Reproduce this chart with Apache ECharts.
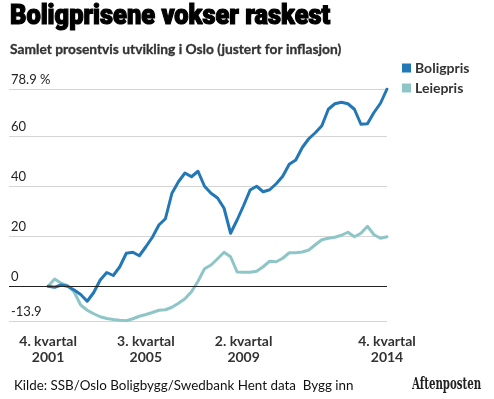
<!DOCTYPE html>
<html>
<head>
<meta charset="utf-8">
<script src="https://cdn.jsdelivr.net/npm/echarts@6/dist/echarts.min.js"></script>
<style>
  html, body { margin: 0; padding: 0; background: #fff; }
  #chart { width: 494px; height: 399px; }
</style>
</head>
<body>
<div id="chart"></div>
<script>
// quarter index 0 = 4. kvartal 2001 ... 52 = 4. kvartal 2014
const boligpris = [
  0, -0.4, 0.5, 0, -1.5, -3.3, -6, -2.5, 2.5, 5.5,
  4.3, 7.8, 13.2, 13.6, 12.2, 15.8, 19.6, 24.5, 27, 37.2,
  41.8, 45.3, 43.8, 46, 40, 37.2, 35.3, 31.2, 21.2, 26.5,
  32.3, 38.5, 40, 37.8, 38.6, 41, 44, 48.8, 50.5, 55.5,
  59, 61.4, 64.2, 70.8, 73, 73.6, 73, 70.8, 64.8, 65,
  69.5, 73.2, 78.9
];
const leiepris = [
  0, 2.9, 1.2, 0.2, -2.3, -7.5, -9.6, -11, -12.2, -12.9,
  -13.3, -13.6, -13.8, -13, -12, -11.3, -10.5, -9.6, -9.4, -8.4,
  -6.8, -5, -2.2, 2, 7, 8.5, 11, 13.6, 11.8, 5.7,
  5.6, 5.6, 6, 7.8, 10, 9.8, 11.2, 13.4, 13.4, 13.7,
  14.5, 16.6, 18.6, 19.2, 19.6, 20.4, 21.6, 19.8, 21.2, 24,
  20.6, 19.2, 19.8
];
const tickIndex = [0, 15, 30, 52];
const tickLabels = ['4. kvartal\n2001', '3. kvartal\n2005', '2. kvartal\n2009', '4. kvartal\n2014'];
const yTicks = [-13.9, 0, 20, 40, 60, 78.9];

const chart = echarts.init(document.getElementById('chart'));

const option = {
  animation: false,
  graphic: [
    {
      type: 'text', x: 10, y: 4, scaleX: 0.94,
      style: {
        text: 'Boligprisene vokser raskest', fontFamily: 'Roboto', fontWeight: 900, fontSize: 27,
        fill: '#000', stroke: '#000', lineWidth: 1.2
      }
    },
    {
      type: 'text', x: 10, y: 43, scaleX: 1.06,
      style: {
        text: 'Samlet prosentvis utvikling i Oslo (justert for inflasjon)', fontFamily: 'Lato', fontWeight: 'bold', fontSize: 13,
        fill: '#333', stroke: '#333', lineWidth: 0.3
      }
    },
    {
      type: 'text', x: 14, y: 379,
      style: { text: 'Kilde: SSB/Oslo Boligbygg/Swedbank Hent data  Bygg inn', fontFamily: 'Lato', fontSize: 13.4, fill: '#111' }
    },
    {
      type: 'text', x: 412, y: 377, scaleX: 0.64,
      style: { text: 'Aftenposten', fontFamily: 'DejaVu Serif', fontWeight: 'bold', fontSize: 16, fill: '#222' }
    }
  ],
  legend: {
    orient: 'vertical',
    left: 397,
    top: 56,
    itemWidth: 9,
    itemHeight: 9,
    itemGap: 6,
    icon: 'rect',
    data: ['Boligpris', 'Leiepris'],
    textStyle: { fontFamily: 'Lato', fontWeight: 'bold', fontSize: 14, color: '#333', padding: [0, 0, 0, -1] }
  },
  grid: { left: 9, right: 107, top: 89, bottom: 78 },
  xAxis: {
    type: 'value',
    min: -6,
    max: 52,
    axisLine: { show: false },
    axisTick: { show: false },
    splitLine: { show: false },
    axisLabel: {
      customValues: tickIndex,
      formatter: v => tickLabels[tickIndex.indexOf(v)],
      fontFamily: 'Lato',
      fontWeight: 'bold',
      fontSize: 14,
      lineHeight: 16,
      color: '#333',
      margin: 12
    }
  },
  yAxis: {
    type: 'value',
    min: -13.9,
    max: 78.9,
    axisLine: { show: false },
    axisTick: { show: false, customValues: yTicks },
    splitLine: { show: true, lineStyle: { color: '#d4d4d4', width: 1 } },
    axisLabel: {
      customValues: yTicks,
      inside: true,
      margin: 2,
      verticalAlign: 'bottom',
      padding: [0, 0, 3, 0],
      formatter: v => v === 78.9 ? '78.9 %' : String(v),
      fontFamily: 'Lato',
      fontSize: 13,
      color: '#222'
    }
  },
  series: [
    {
      name: 'Leiepris',
      type: 'line',
      data: leiepris.map((v, i) => [i, v]),
      symbol: 'none',
      color: '#8ec6c8',
      lineStyle: { width: 3, cap: 'round', join: 'round' },
      markLine: {
        silent: true,
        symbol: 'none',
        label: { show: false },
        lineStyle: { color: '#222', width: 1, type: 'solid' },
        data: [{ yAxis: 0 }]
      }
    },
    {
      name: 'Boligpris',
      type: 'line',
      data: boligpris.map((v, i) => [i, v]),
      symbol: 'none',
      color: '#2277b6',
      lineStyle: { width: 3, cap: 'round', join: 'round' }
    }
  ]
};

chart.setOption(option);
window.addEventListener('resize', function () {
  chart.resize();
});
</script>
</body>
</html>
